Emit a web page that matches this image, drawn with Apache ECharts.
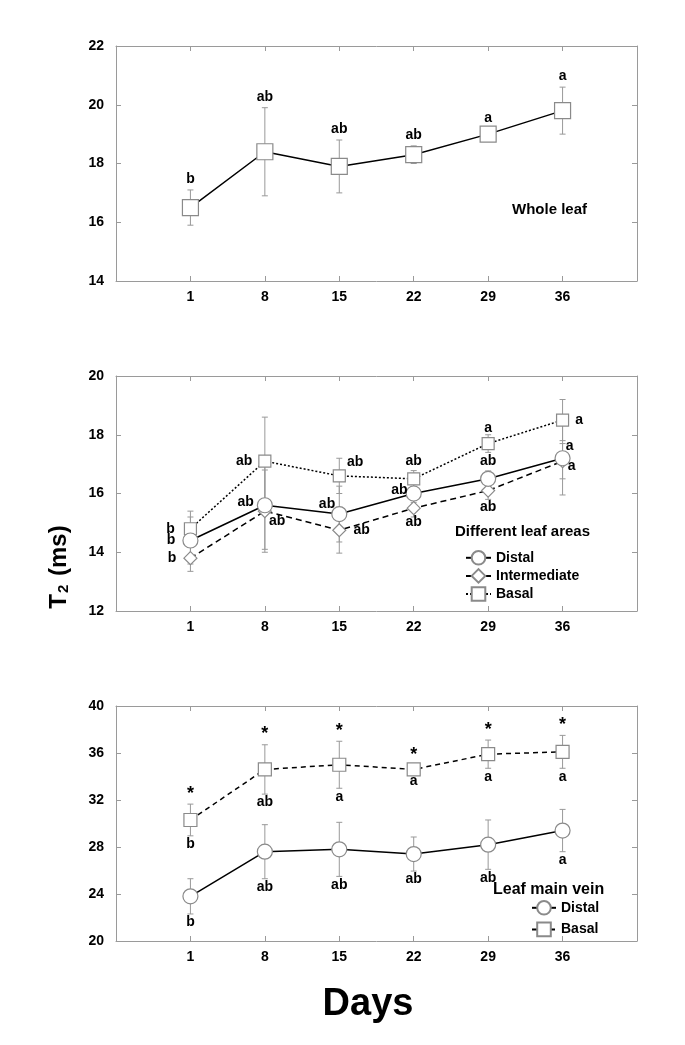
<!DOCTYPE html>
<html>
<head>
<meta charset="utf-8">
<title>T2 by leaf area</title>
<script src="https://cdn.jsdelivr.net/npm/echarts@6/dist/echarts.min.js"></script>
<style>
  html, body { margin: 0; padding: 0; background: #fff; }
  #main { width: 685px; height: 1045px; }
</style>
</head>
<body>
<div id="main"></div>
<script>
const days = [1, 8, 15, 22, 29, 36]

// whole leaf
const wholeMean = [16.5, 18.4, 17.9, 18.3, 19.0, 19.8]
const wholeErr = [0.6, 1.5, 0.9, 0.3, 0.2, 0.8]
const wholeLetters = ['b', 'ab', 'ab', 'ab', 'a', 'a']

// different leaf areas
const distalMean = [14.4, 15.6, 15.3, 16.0, 16.5, 17.2]
const distalErr = [0.8, 1.5, 0.95, 0.3, 0.27, 1.25]
const distalLetters = ['b', 'ab', 'ab', 'ab', 'ab', 'a']
const interMean = [13.8, 15.4, 14.75, 15.5, 16.1, 17.1]
const interErr = [0.45, 1.4, 0.78, 0.3, 0.3, 0.6]
const interLetters = ['b', 'ab', 'ab', 'ab', 'ab', 'a']
const basalMean = [14.8, 17.1, 16.6, 16.5, 17.7, 18.5]
const basalErr = [0.6, 1.5, 0.6, 0.28, 0.3, 0.7]
const basalLetters = ['b', 'ab', 'ab', 'ab', 'a', 'a']

// leaf main vein
const veinDistalMean = [23.8, 27.6, 27.8, 27.4, 28.2, 29.4]
const veinDistalErr = [1.5, 2.3, 2.3, 1.45, 2.1, 1.8]
const veinDistalLetters = ['b', 'ab', 'ab', 'ab', 'ab', 'a']
const veinBasalMean = [30.3, 34.6, 35.0, 34.6, 35.9, 36.1]
const veinBasalErr = [1.35, 2.1, 2.0, 0.3, 1.2, 1.4]
const veinBasalLetters = ['b', 'ab', 'a', 'a', 'a', 'a']
const veinStars = ['*', '*', '*', '*', '*', '*']

const yRanges = [[14, 22, 2], [12, 20, 2], [20, 40, 4]]

const FONT = '"Liberation Sans", Arial, Helvetica, sans-serif'
const frameColor = '#9a9a9a'
const markerBorder = '#8a8a8a'

// where each letter sits around its marker (middle panel)
const basalPos = [
  { position: 'left', distance: 9 },
  { position: 'left', distance: 6 },
  { position: 'right', distance: 1, offset: [0, -14] },
  { position: 'top', distance: 4 },
  { position: 'top', distance: 2 },
  { position: 'right', distance: 6 }
]
const distalPos = [
  { position: 'left', distance: 7 },
  { position: 'left', distance: 3, offset: [0, -3] },
  { position: 'left', distance: 0, offset: [4, -10] },
  { position: 'left', distance: 0, offset: [2, -3] },
  { position: 'top', distance: 3 },
  { position: 'right', distance: 0, offset: [-5, -12] }
]
const interPos = [
  { position: 'left', distance: 7 },
  { position: 'right', distance: 0, offset: [-3, 10] },
  { position: 'right', distance: 7 },
  { position: 'bottom', distance: 0 },
  { position: 'bottom', distance: 2 },
  { position: 'right', distance: 0, offset: [-2, 5] }
]

const letterStyle = { color: '#000', opacity: 1, fontWeight: 'bold', fontSize: 14, fontFamily: FONT }

function errorItem(params, api) {
  const x = api.value(0)
  const top = api.coord([x, api.value(2)])
  const bot = api.coord([x, api.value(1)])
  const w = 3
  const style = { stroke: '#999', lineWidth: 1 }
  return {
    type: 'group',
    children: [
      { type: 'line', shape: { x1: top[0], y1: top[1], x2: bot[0], y2: bot[1] }, style: style },
      { type: 'line', shape: { x1: top[0] - w, y1: top[1], x2: top[0] + w, y2: top[1] }, style: style },
      { type: 'line', shape: { x1: bot[0] - w, y1: bot[1], x2: bot[0] + w, y2: bot[1] }, style: style }
    ]
  }
}

function errSeries(gi, mean, err) {
  return {
    type: 'custom',
    xAxisIndex: gi,
    yAxisIndex: gi,
    z: 1,
    silent: true,
    renderItem: errorItem,
    encode: { x: 0, y: [1, 2] },
    data: days.map((d, i) => [d, mean[i] - err[i], mean[i] + err[i]])
  }
}

function lineSeries(gi, name, mean, symbol, size, dash, letters, pos) {
  return {
    type: 'line',
    name: name,
    xAxisIndex: gi,
    yAxisIndex: gi,
    z: 3,
    symbol: symbol,
    symbolSize: size,
    showAllSymbol: true,
    itemStyle: { color: '#fff', borderColor: markerBorder, borderWidth: 1.2 },
    lineStyle: { color: '#000', width: 1.5, type: dash },
    emphasis: { disabled: true },
    data: days.map((d, i) => {
      const item = { value: [d, mean[i]] }
      if (letters) {
        item.label = Object.assign({ show: true, formatter: letters[i] }, letterStyle, pos[i])
      }
      return item
    })
  }
}

// letters sitting above or below an error bar
function letterSeries(gi, mean, err, sign, letters, position, distance, fontSize) {
  return {
    type: 'scatter',
    xAxisIndex: gi,
    yAxisIndex: gi,
    z: 4,
    silent: true,
    symbolSize: 1,
    itemStyle: { color: 'rgba(255,255,255,0)' },
    emphasis: { disabled: true },
    label: Object.assign({
      show: true,
      position: position,
      distance: distance,
      formatter: p => letters[p.dataIndex]
    }, letterStyle, fontSize ? { fontSize: fontSize } : {}),
    data: days.map((d, i) => [d, mean[i] + sign * err[i]])
  }
}

const grids = [0, 1, 2].map(i => ({ left: 116, right: 48, top: [46, 376, 706][i], height: 235 }))

const xAxes = []
const yAxes = []
for (let k = 0; k < 2; k++) {
  for (let i = 0; i < 3; i++) {
    xAxes.push({
      type: 'value',
      gridIndex: i,
      position: k === 0 ? 'bottom' : 'top',
      min: -6,
      max: 43,
      axisLine: { show: true, onZero: false, lineStyle: { color: frameColor, width: 1 } },
      axisTick: { show: true, inside: true, length: 5, customValues: days, lineStyle: { color: frameColor } },
      axisLabel: {
        show: k === 0,
        customValues: days,
        margin: 9,
        color: '#000',
        fontWeight: 'bold',
        fontSize: 14,
        fontFamily: FONT
      },
      splitLine: { show: false }
    })
    yAxes.push({
      type: 'value',
      gridIndex: i,
      position: k === 0 ? 'left' : 'right',
      min: yRanges[i][0],
      max: yRanges[i][1],
      interval: yRanges[i][2],
      axisLine: { show: true, onZero: false, lineStyle: { color: frameColor, width: 1 } },
      axisTick: { show: true, inside: true, length: 5, lineStyle: { color: frameColor } },
      axisLabel: {
        show: k === 0,
        margin: 12,
        color: '#000',
        fontWeight: 'bold',
        fontSize: 14,
        fontFamily: FONT
      },
      splitLine: { show: false }
    })
  }
}

const series = [
  // whole leaf
  errSeries(0, wholeMean, wholeErr),
  lineSeries(0, 'Whole leaf', wholeMean, 'rect', 16, 'solid'),
  letterSeries(0, wholeMean, wholeErr, 1, wholeLetters, 'top', 3),

  // different leaf areas
  errSeries(1, basalMean, basalErr),
  errSeries(1, distalMean, distalErr),
  errSeries(1, interMean, interErr),
  lineSeries(1, 'Basal', basalMean, 'rect', 12, [2, 2], basalLetters, basalPos),
  lineSeries(1, 'Intermediate', interMean, 'diamond', 13, [6, 4], interLetters, interPos),
  lineSeries(1, 'Distal', distalMean, 'circle', 15, 'solid', distalLetters, distalPos),

  // leaf main vein
  errSeries(2, veinBasalMean, veinBasalErr),
  errSeries(2, veinDistalMean, veinDistalErr),
  lineSeries(2, 'Basal (vein)', veinBasalMean, 'rect', 13, [5, 4]),
  lineSeries(2, 'Distal (vein)', veinDistalMean, 'circle', 15, 'solid'),
  letterSeries(2, veinBasalMean, veinBasalErr, 1, veinStars, 'top', 1, 18),
  letterSeries(2, veinBasalMean, veinBasalErr, -1, veinBasalLetters, 'bottom', 1),
  letterSeries(2, veinDistalMean, veinDistalErr, -1, veinDistalLetters, 'bottom', 1)
]

const legendText = { color: '#000', fontWeight: 'bold', fontSize: 14, fontFamily: FONT }

const option = {
  animation: false,
  backgroundColor: '#fff',
  grid: grids,
  xAxis: xAxes,
  yAxis: yAxes,
  legend: [
    {
      left: 460,
      top: 545,
      orient: 'vertical',
      itemWidth: 25,
      itemHeight: 17,
      itemGap: 2.5,
      selectedMode: false,
      textStyle: legendText,
      data: ['Distal', 'Intermediate', 'Basal']
    },
    {
      left: 526,
      top: 895,
      orient: 'vertical',
      itemWidth: 24,
      itemHeight: 17,
      itemGap: 6,
      selectedMode: false,
      textStyle: legendText,
      formatter: n => n.replace(' (vein)', ''),
      data: ['Distal (vein)', 'Basal (vein)']
    }
  ],
  graphic: [
    {
      type: 'text', left: 512, top: 202,
      style: { text: 'Whole leaf', font: 'bold 15px ' + FONT, fill: '#000' }
    },
    {
      type: 'text', left: 455, top: 524,
      style: { text: 'Different leaf areas', font: 'bold 15px ' + FONT, fill: '#000' }
    },
    {
      type: 'text', left: 493, top: 882,
      style: { text: 'Leaf main vein', font: 'bold 16px ' + FONT, fill: '#000' }
    },
    {
      type: 'text', x: 57, y: 567, rotation: Math.PI / 2,
      style: {
        text: '{t|T}{s|2}{t| (ms)}',
        align: 'center',
        verticalAlign: 'middle',
        fill: '#000',
        rich: {
          t: { fontSize: 24, fontWeight: 'bold', fontFamily: FONT, lineHeight: 28, verticalAlign: 'bottom' },
          s: { fontSize: 15, fontWeight: 'bold', fontFamily: FONT, lineHeight: 28, verticalAlign: 'bottom', padding: [0, 2, 0, 1] }
        }
      }
    },
    {
      type: 'text', x: 368, y: 1005,
      style: {
        text: 'Days', font: 'bold 38px ' + FONT, fill: '#000',
        align: 'center', verticalAlign: 'middle'
      }
    }
  ],
  series: series
}

const chart = echarts.init(document.getElementById('main'))
chart.setOption(option)
</script>
</body>
</html>
